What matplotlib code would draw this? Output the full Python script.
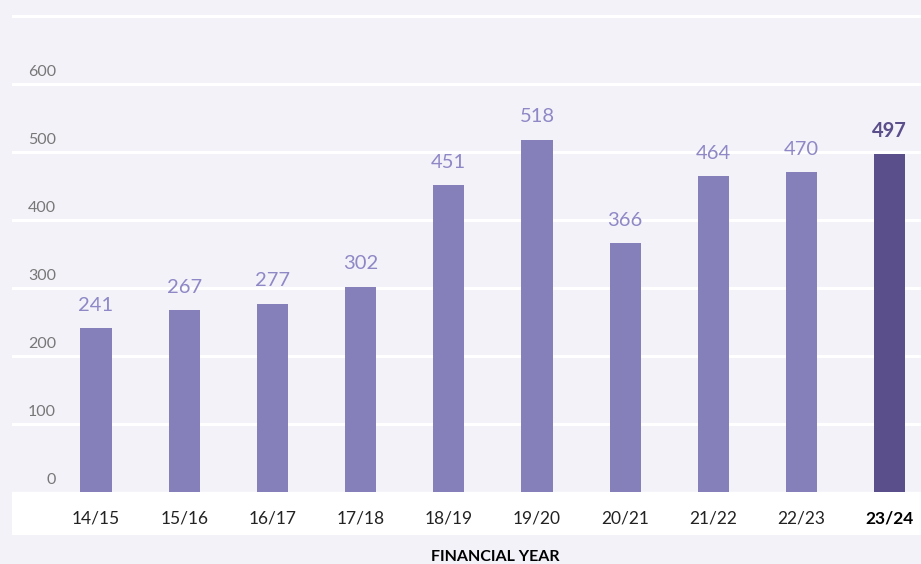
import matplotlib.pyplot as plt
import numpy as np

# data
years = ["14/15", "15/16", "16/17", "17/18", "18/19", "19/20",
         "20/21", "21/22", "22/23", "23/24"]
values = [241, 267, 277, 302, 451, 518, 366, 464, 470, 497]
y_ticks = [0, 100, 200, 300, 400, 500, 600]
grid_lines = [100, 200, 300, 400, 500, 600, 700]

bg = "#f3f2f8"
bar_col = "#857fba"
last_col = "#5a4e8b"
label_col = "#8e88c6"

plt.rcParams["font.family"] = ["Lato", "DejaVu Sans"]

fig = plt.figure(figsize=(9.21, 5.64), dpi=100)
fig.patch.set_facecolor(bg)
ax = fig.add_axes([12 / 921, 29 / 564, 909 / 921, 535 / 564])
ax.set_facecolor(bg)

x = np.arange(len(years))
px = 0.68  # pixels per unit
ax.set_xlim(-0.952, 9.354)
ax.set_ylim(-43 / px, 492 / px)

# white band for the category axis
ax.axhspan(-43 / px, 0, color="white", zorder=1)
for g in grid_lines:
    ax.axhline(g, color="white", linewidth=2.2, zorder=1)

colors = [bar_col] * (len(years) - 1) + [last_col]
ax.bar(x, values, width=0.355, color=colors, zorder=2)

for i, v in enumerate(values):
    last = i == len(values) - 1
    ax.text(x[i], v + 23 / px, str(v), ha="center", va="center",
            fontsize=14.5, color=last_col if last else label_col,
            fontweight="bold" if last else "normal", zorder=3)
    ax.text(x[i], -26 / px, years[i], ha="center", va="center",
            fontsize=12.5, color="black" if last else "#222222",
            fontweight="bold" if last else "normal", zorder=3)

for t in y_ticks:
    ax.text(-0.455, t + 12 / px, str(t), ha="right", va="center",
            fontsize=11.5, color="#777777", zorder=3)

fig.text(495 / 921, 1 - 557 / 564, "FINANCIAL YEAR", ha="center", va="center",
         fontsize=11.5, fontweight="bold", color="black")

ax.set_xticks([])
ax.set_yticks([])
for s in ax.spines.values():
    s.set_visible(False)

plt.savefig("out.png", dpi=100, facecolor=bg)
